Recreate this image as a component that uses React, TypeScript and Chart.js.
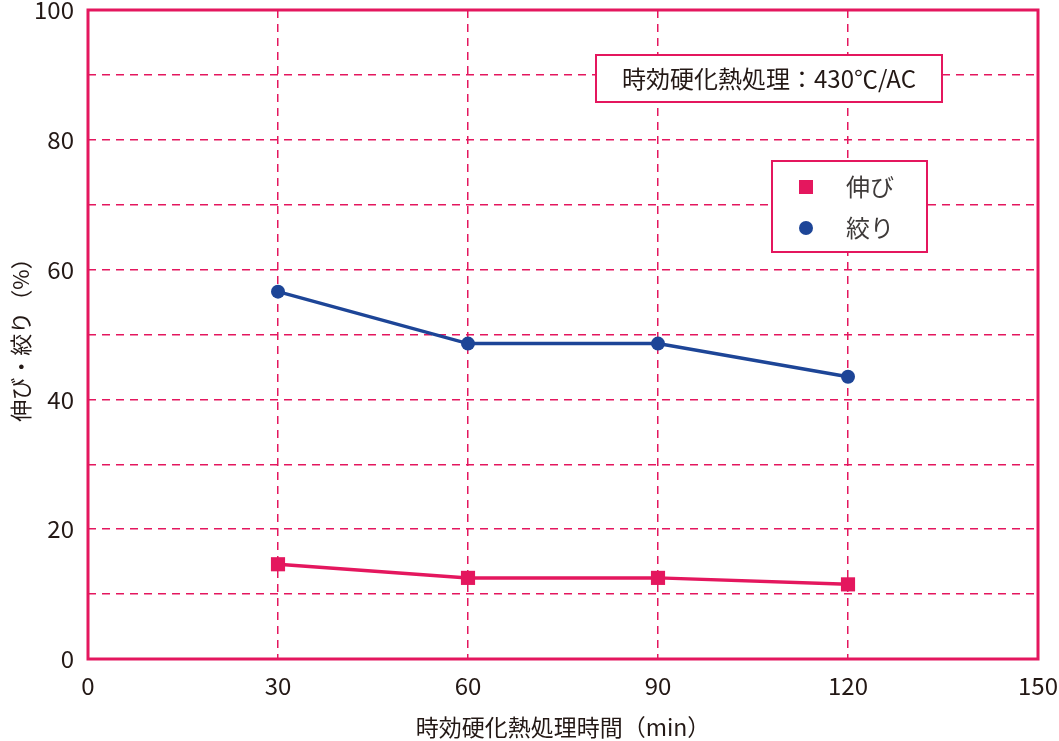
import { useEffect, useRef } from "react"
import { Chart, registerables } from "chart.js"

Chart.register(...registerables)

const times = [30, 60, 90, 120]
const elongation = [14.6, 12.5, 12.5, 11.5]
const reduction = [56.6, 48.6, 48.6, 43.5]
const seriesLabels = ["伸び", "絞り"]
const noteText = "時効硬化熱処理：430℃/AC"
const xTitle = "時効硬化熱処理時間（min）"
const yTitle = "伸び・絞り（%）"

const PINK = "#E4175E"
const BLUE = "#1D4597"
const TEXT = "#231815"
const FONT = "'Noto Sans CJK JP', 'Noto Sans', sans-serif"

// 枠線・注記・凡例を描く
const decorations = {
    id: "decorations",
    beforeDatasetsDraw(chart: any) {
        const { ctx, chartArea } = chart
        ctx.save()
        ctx.strokeStyle = PINK
        ctx.lineWidth = 3
        ctx.strokeRect(chartArea.left, chartArea.top, chartArea.right - chartArea.left, chartArea.bottom - chartArea.top)
        ctx.restore()
    },
    afterDatasetsDraw(chart: any) {
        const { ctx } = chart
        ctx.save()

        // 注記ボックス
        ctx.fillStyle = "#fff"
        ctx.strokeStyle = PINK
        ctx.lineWidth = 2
        ctx.fillRect(596, 55, 346, 47)
        ctx.strokeRect(596, 55, 346, 47)
        ctx.fillStyle = TEXT
        ctx.font = `24px ${FONT}`
        ctx.textAlign = "center"
        ctx.textBaseline = "middle"
        ctx.fillText(noteText, 769, 79)

        // 凡例
        ctx.fillStyle = "#fff"
        ctx.fillRect(772, 161, 155, 91)
        ctx.strokeRect(772, 161, 155, 91)
        ctx.textAlign = "left"
        chart.data.datasets.forEach((ds: any, i: number) => {
            const y = 187 + i * 41
            ctx.fillStyle = ds.backgroundColor
            if (ds.pointStyle === "rect") {
                ctx.fillRect(799, y - 7, 14, 14)
            } else {
                ctx.beginPath()
                ctx.arc(806, y, 7, 0, Math.PI * 2)
                ctx.fill()
            }
            ctx.fillStyle = "#3e3a39"
            ctx.fillText(ds.label, 846, y)
        })
        ctx.restore()
    },
}

export default function App() {
    const chartRef = useRef<HTMLCanvasElement>(null)
    const chartInstance = useRef<Chart | null>(null)

    useEffect(() => {
        document.body.style.margin = "0"
        if (!chartRef.current) return
        if (chartInstance.current) chartInstance.current.destroy()
        const ctx = chartRef.current.getContext("2d")
        if (!ctx) return

        chartInstance.current = new Chart(ctx, {
            type: "line",
            data: {
                datasets: [
                    {
                        label: seriesLabels[0],
                        data: times.map((t, i) => ({ x: t, y: elongation[i] })),
                        borderColor: PINK,
                        backgroundColor: PINK,
                        borderWidth: 3.5,
                        pointStyle: "rect",
                        pointRadius: 10,
                        pointBorderWidth: 0,
                    },
                    {
                        label: seriesLabels[1],
                        data: times.map((t, i) => ({ x: t, y: reduction[i] })),
                        borderColor: BLUE,
                        backgroundColor: BLUE,
                        borderWidth: 3.5,
                        pointStyle: "circle",
                        pointRadius: 7,
                        pointBorderWidth: 0,
                    },
                ],
            },
            options: {
                responsive: true,
                maintainAspectRatio: false,
                animation: false,
                layout: { padding: { top: 9, right: 21, bottom: 0, left: 0 } },
                plugins: {
                    legend: { display: false },
                    tooltip: { enabled: false },
                },
                scales: {
                    x: {
                        type: "linear",
                        min: 0,
                        max: 150,
                        afterFit: (scale: any) => {
                            scale.height = 82
                            scale.paddingLeft = 0
                            scale.paddingRight = 0
                        },
                        ticks: {
                            stepSize: 30,
                            padding: 12,
                            color: TEXT,
                            font: { family: FONT, size: 24 },
                            maxRotation: 0,
                        },
                        grid: { color: PINK, lineWidth: 1.5, drawTicks: false },
                        border: { display: false, dash: [8, 6] },
                        title: {
                            display: true,
                            text: xTitle,
                            color: TEXT,
                            font: { family: FONT, size: 23 },
                            padding: { top: 0, bottom: 0 },
                        },
                    },
                    y: {
                        min: 0,
                        max: 100,
                        afterFit: (scale: any) => {
                            scale.width = 88
                            scale.paddingTop = 0
                            scale.paddingBottom = 0
                        },
                        ticks: {
                            stepSize: 10,
                            padding: 14,
                            color: TEXT,
                            font: { family: FONT, size: 24 },
                            callback: (v: any) => (v % 20 === 0 ? String(v) : ""),
                        },
                        grid: { color: PINK, lineWidth: 1.5, drawTicks: false },
                        border: { display: false, dash: [8, 6] },
                        title: {
                            display: true,
                            text: yTitle,
                            color: TEXT,
                            font: { family: FONT, size: 22 },
                            padding: { top: 7, bottom: 0 },
                        },
                    },
                },
            },
            plugins: [decorations],
        })

        return () => {
            if (chartInstance.current) {
                chartInstance.current.destroy()
                chartInstance.current = null
            }
        }
    }, [])

    return (
        <div style={{ width: 1059, height: 741, position: "relative" }}>
            <canvas ref={chartRef} />
        </div>
    )
}
